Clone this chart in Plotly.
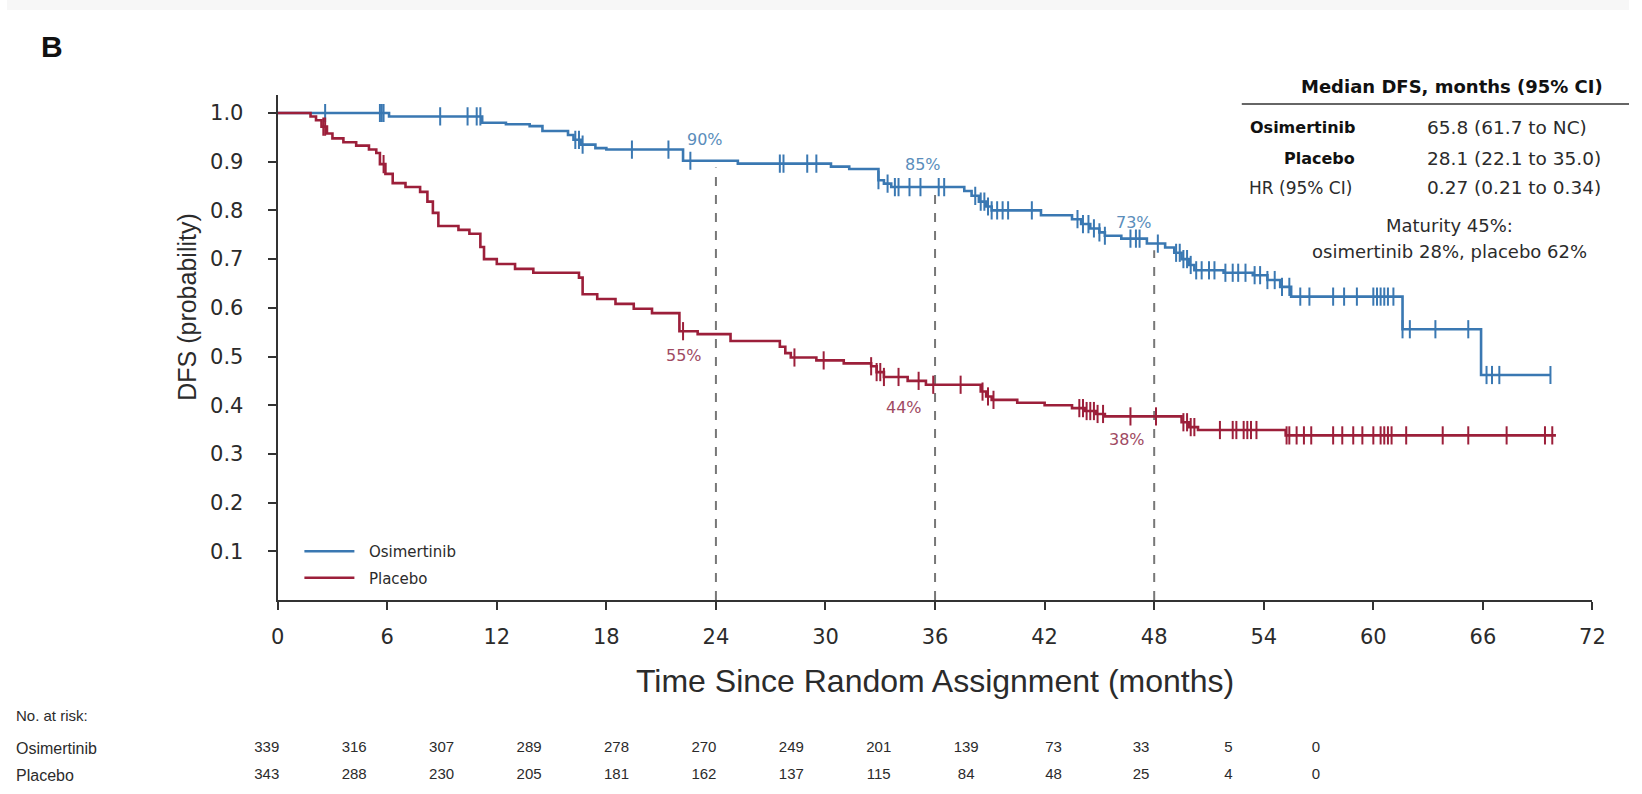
import plotly.graph_objects as go

# ---------------- data ----------------
osi_t = [0, 6.1, 11.2, 12.5, 13.8, 14.5, 15.9, 16.2, 16.6, 17.4, 18.0, 22.2, 25.2, 30.3, 31.3,
         32.9, 33.2, 33.6, 37.6, 38.0, 38.4, 38.8, 39.1, 41.8, 43.5, 44.0, 44.5, 45.0, 45.3,
         46.2, 47.6, 48.6, 49.1, 49.5, 49.9, 50.2, 51.8, 53.4, 54.2, 54.9, 55.5, 61.6, 65.9, 69.7]
osi_s = [1.0, 0.993, 0.980, 0.977, 0.973, 0.963, 0.955, 0.945, 0.935, 0.928, 0.925, 0.902, 0.896, 0.890, 0.885,
         0.862, 0.855, 0.848, 0.840, 0.830, 0.818, 0.808, 0.800, 0.790, 0.782, 0.772, 0.763, 0.755, 0.748,
         0.742, 0.732, 0.724, 0.713, 0.700, 0.688, 0.677, 0.672, 0.667, 0.657, 0.643, 0.623, 0.556, 0.462, 0.462]
osi_cens = [2.6, 5.6, 5.7, 5.8, 8.9, 10.4, 10.9, 11.1, 16.3, 16.5, 16.7, 19.4, 21.4, 22.6, 27.5, 27.7,
            29.0, 29.5, 32.9, 33.4, 33.8, 34.0, 34.6, 35.2, 36.2, 36.5, 38.2, 38.5, 38.7, 38.9, 39.1,
            39.4, 39.7, 40.0, 41.3, 43.8, 44.1, 44.4, 44.7, 45.0, 45.3, 46.7, 47.0, 47.2, 48.2, 49.2,
            49.4, 49.6, 49.8, 50.0, 50.3, 50.6, 51.0, 51.3, 51.9, 52.3, 52.6, 53.0, 53.5, 53.8, 54.2,
            54.6, 55.0, 55.4, 56.0, 56.5, 57.8, 58.4, 59.1, 60.0, 60.2, 60.4, 60.6, 60.8, 61.1, 61.6,
            62.0, 63.4, 65.2, 66.2, 66.5, 66.9, 69.7]

pla_t = [0, 1.8, 2.1, 2.4, 2.7, 3.0, 3.6, 4.3, 5.0, 5.4, 5.6, 5.9, 6.3, 7.0, 7.8, 8.2, 8.5, 8.8,
         9.9, 10.5, 11.1, 11.3, 12.0, 13.0, 14.0, 16.5, 16.7, 17.5, 18.5, 19.5, 20.5, 22.0, 23.0,
         24.8, 27.5, 27.8, 28.1, 29.5, 31.0, 32.5, 32.8, 33.2, 34.5, 35.5, 38.5, 38.8, 39.1, 40.5,
         42.0, 43.5, 44.2, 44.8, 45.3, 49.5, 49.9, 50.4, 55.2, 70.0]
pla_s = [1.0, 0.993, 0.985, 0.972, 0.958, 0.948, 0.940, 0.933, 0.925, 0.918, 0.895, 0.875, 0.856, 0.848,
         0.838, 0.818, 0.795, 0.768, 0.760, 0.752, 0.725, 0.700, 0.690, 0.680, 0.672, 0.662, 0.628,
         0.618, 0.608, 0.598, 0.589, 0.552, 0.546, 0.532, 0.520, 0.507, 0.498, 0.492, 0.486, 0.480,
         0.468, 0.458, 0.450, 0.442, 0.428, 0.418, 0.411, 0.405, 0.400, 0.394, 0.388, 0.382, 0.377,
         0.365, 0.355, 0.349, 0.338, 0.338]
pla_cens = [2.5, 2.6, 5.8, 22.2, 28.3, 29.9, 32.5, 32.8, 33.0, 33.2, 34.0, 35.1, 35.9, 37.4, 38.6,
            38.9, 39.2, 43.9, 44.1, 44.3, 44.5, 44.7, 44.9, 45.2, 46.7, 48.1, 49.6, 49.8, 50.0, 50.2,
            51.6, 52.3, 52.5, 52.9, 53.1, 53.3, 53.6, 55.25, 55.4, 55.8, 56.2, 56.6, 57.8, 58.3, 58.9,
            59.4, 60.0, 60.4, 60.6, 60.8, 61.0, 61.8, 63.8, 65.2, 67.3, 69.4, 69.8]

landmark_t = [24, 36, 48]
landmark_osi = [0.90, 0.85, 0.73]
landmark_pla = [0.55, 0.44, 0.38]
landmark_osi_lbl = ["90%", "85%", "73%"]
landmark_pla_lbl = ["55%", "44%", "38%"]

risk_times = [0, 6, 12, 18, 24, 30, 36, 42, 48, 54, 60, 66, 72]
osi_risk = [339, 316, 307, 289, 278, 270, 249, 201, 139, 73, 33, 5, 0]
pla_risk = [343, 288, 230, 205, 181, 162, 137, 115, 84, 48, 25, 4, 0]

x_ticks = [0, 6, 12, 18, 24, 30, 36, 42, 48, 54, 60, 66, 72]
y_ticks = [0.1, 0.2, 0.3, 0.4, 0.5, 0.6, 0.7, 0.8, 0.9, 1.0]

# ---------------- style ----------------
W, H = 1642, 794
BLUE = "#3a78b2"
RED = "#9c1f3a"
BLUE_TXT = "#5a8dbb"
RED_TXT = "#a04a62"
TXT = "#2b2b2b"
FONT = "Liberation Sans, Arial, Helvetica, sans-serif"
WIDE = "DejaVu Sans, Liberation Sans, Arial, sans-serif"


def step_vals(ts, ss, q):
    v = ss[0]
    for t, s in zip(ts, ss):
        if t <= q:
            v = s
    return v


fig = go.Figure()

fig.add_trace(go.Scatter(x=osi_t, y=osi_s, mode="lines", line=dict(color=BLUE, width=2.6, shape="hv"),
                         name="\u00a0\u00a0Osimertinib", legendgroup="a"))
fig.add_trace(go.Scatter(x=pla_t, y=pla_s, mode="lines", line=dict(color=RED, width=2.6, shape="hv"),
                         name="\u00a0\u00a0Placebo", legendgroup="b"))
fig.add_trace(go.Scatter(x=osi_cens, y=[step_vals(osi_t, osi_s, c) for c in osi_cens], mode="markers",
                         marker=dict(symbol="line-ns", size=13, line=dict(color=BLUE, width=2)),
                         showlegend=False, hoverinfo="skip"))
fig.add_trace(go.Scatter(x=pla_cens, y=[step_vals(pla_t, pla_s, c) for c in pla_cens], mode="markers",
                         marker=dict(symbol="line-ns", size=13, line=dict(color=RED, width=2)),
                         showlegend=False, hoverinfo="skip"))

# at-risk table numbers on their own axis
fig.add_trace(go.Scatter(x=risk_times, y=["Osimertinib"] * len(risk_times), text=[str(v) for v in osi_risk],
                         mode="text", textfont=dict(size=15, color=TXT, family=FONT), cliponaxis=False,
                         xaxis="x2", yaxis="y2", showlegend=False, hoverinfo="skip"))
fig.add_trace(go.Scatter(x=risk_times, y=["Placebo"] * len(risk_times), text=[str(v) for v in pla_risk],
                         mode="text", textfont=dict(size=15, color=TXT, family=FONT), cliponaxis=False,
                         xaxis="x2", yaxis="y2", showlegend=False, hoverinfo="skip"))

# landmark dashed lines
for t, v in zip(landmark_t, landmark_osi):
    fig.add_shape(type="line", x0=t, x1=t, y0=0, y1=v - 0.012, xref="x", yref="y",
                  line=dict(color="#777777", width=2, dash="dash"), layer="below")

# landmark labels
osi_dx = [-0.6, -0.65, -1.1]
pla_dx = [-1.75, -1.7, -1.5]
pla_dy = [-23, -22, -25]
for t, v, lbl, dx in zip(landmark_t, landmark_osi, landmark_osi_lbl, osi_dx):
    fig.add_annotation(x=t + dx, y=v, text=lbl, showarrow=False, yshift=22,
                       font=dict(size=16, color=BLUE_TXT, family=WIDE))
for t, v, lbl, dx, dy in zip(landmark_t, landmark_pla, landmark_pla_lbl, pla_dx, pla_dy):
    fig.add_annotation(x=t + dx, y=v, text=lbl, showarrow=False, yshift=dy,
                       font=dict(size=16, color=RED_TXT, family=WIDE))

# faint band at the top of the page
fig.add_shape(type="rect", xref="paper", yref="paper", x0=0, x1=1, y0=1 - 10 / H, y1=1,
              fillcolor="#f7f7f7", line=dict(width=0), layer="below")

# panel letter
fig.add_annotation(x=32 / W, y=1 - 46 / H, xref="paper", yref="paper", text="<b>B</b>", showarrow=False,
                   xanchor="left", yanchor="middle", font=dict(size=30, color="#111", family=FONT))


def ann(x, y, text, anchor="left", size=15, color=TXT, family=FONT, angle=0):
    fig.add_annotation(x=x / W, y=1 - y / H, xref="paper", yref="paper", text=text, showarrow=False,
                       xanchor=anchor, yanchor="middle", textangle=angle,
                       font=dict(size=size, color=color, family=family))


# y axis title
ann(182, 307, "DFS (probability)", "center", 25, TXT, FONT, -90)

# summary table (top right)
ann(1463, 87, "<b>Median DFS, months (95% CI)</b>", "center", 18, "#111", WIDE)
fig.add_shape(type="line", xref="paper", yref="paper", x0=1250 / W, x1=1.0, y0=1 - 104 / H, y1=1 - 104 / H,
              line=dict(color="#333", width=1.5))
ann(1367, 127, "<b>Osimertinib</b>", "right", 16, "#111", WIDE)
ann(1367, 158, "<b>Placebo</b>", "right", 16, "#111", WIDE)
ann(1255, 188, "HR (95% CI)", "left", 17, TXT, WIDE)
ann(1435, 127, "65.8 (61.7 to NC)", "left", 18.5, TXT, WIDE)
ann(1435, 158, "28.1 (22.1 to 35.0)", "left", 18.5, TXT, WIDE)
ann(1435, 188, "0.27 (0.21 to 0.34)", "left", 18.5, TXT, WIDE)
ann(1460, 225, "Maturity 45%:", "center", 18, TXT, WIDE)
ann(1460, 252, "osimertinib 28%, placebo 62%", "center", 18, TXT, WIDE)

# at-risk labels
ann(7, 715, "No. at risk:", "left", 15)
ann(7, 748, "Osimertinib", "left", 16)
ann(7, 775, "Placebo", "left", 16)

x0_px, x1_px = 274, 1605
y0_px, ytop_px = 600, 95
ymax = 1.037

fig.update_layout(
    width=W, height=H, margin=dict(l=0, r=0, t=0, b=0),
    paper_bgcolor="white", plot_bgcolor="white",
    font=dict(family=FONT, color=TXT),
    showlegend=True,
    legend=dict(x=296 / W, y=1 - 535 / H, xanchor="left", yanchor="top", bgcolor="rgba(0,0,0,0)",
                font=dict(size=15, color=TXT, family=WIDE), itemwidth=50, tracegroupgap=4,
                traceorder="grouped"),
    xaxis=dict(domain=[x0_px / W, x1_px / W], range=[0, 72], tickvals=x_ticks,
               showgrid=False, zeroline=False, showline=True, linecolor="#333", linewidth=2,
               ticks="outside", ticklen=8, tickwidth=1.5, tickcolor="#333", ticklabelstandoff=9,
               tickfont=dict(size=21, color=TXT, family=WIDE),
               title=dict(text="Time Since Random Assignment (months)", standoff=21,
                          font=dict(size=32, color=TXT, family=FONT)),
               anchor="y"),
    yaxis=dict(domain=[1 - y0_px / H, 1 - ytop_px / H], range=[0, ymax], tickvals=y_ticks,
               ticktext=[f"{v:.1f}" for v in y_ticks],
               showgrid=False, zeroline=False, showline=True, linecolor="#333", linewidth=2,
               ticks="outside", ticklen=8, tickwidth=1.5, tickcolor="#333", ticklabelstandoff=20,
               tickfont=dict(size=21, color=TXT, family=WIDE),
               anchor="x"),
    xaxis2=dict(domain=[263 / W, 1325 / W], range=[0, 72], visible=False, anchor="y2"),
    yaxis2=dict(domain=[1 - 788.5 / H, 1 - 734.5 / H], range=[-0.5, 1.5], visible=False, anchor="x2",
                type="category", categoryarray=["Placebo", "Osimertinib"], categoryorder="array"),
)

fig.write_html("out.html")
